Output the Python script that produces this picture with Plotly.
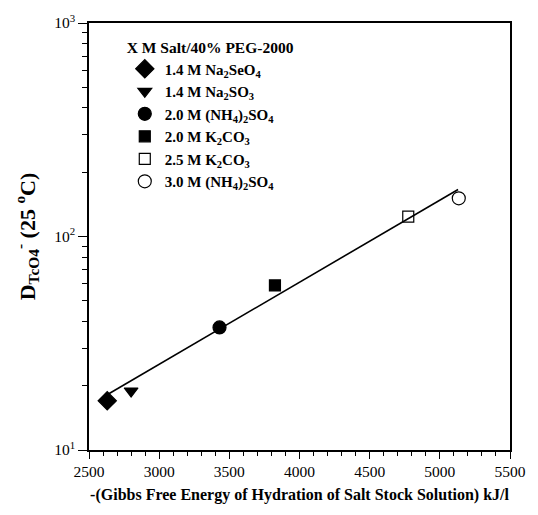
import plotly.graph_objects as go

# Data
salts = ["1.4 M Na<sub>2</sub>SeO<sub>4</sub>",
         "1.4 M Na<sub>2</sub>SO<sub>3</sub>",
         "2.0 M (NH<sub>4</sub>)<sub>2</sub>SO<sub>4</sub>",
         "2.0 M K<sub>2</sub>CO<sub>3</sub>",
         "2.5 M K<sub>2</sub>CO<sub>3</sub>",
         "3.0 M (NH<sub>4</sub>)<sub>2</sub>SO<sub>4</sub>"]
gibbs = [2630, 2800, 3430, 3825, 4775, 5135]
d_tco4 = [17.0, 18.9, 37.5, 59.0, 124.0, 151.0]
symbols = ["diamond", "triangle-down", "circle", "square", "square-open", "circle-open"]
sizes = [14, 12, 13, 11, 11, 13]

fit_x = [2620, 5130]
fit_y = [18.0, 166.0]

x_ticks = [2500, 3000, 3500, 4000, 4500, 5000, 5500]
y_ticks = [10, 100, 1000]
y_ticktext = ["10<sup>1</sup>", "10<sup>2</sup>", "10<sup>3</sup>"]
y_minor = [m * d for d in (10, 100) for m in range(2, 10)]

SERIF = "Liberation Serif, Times New Roman, serif"

fig = go.Figure()

fig.add_trace(go.Scatter(
    x=fit_x, y=fit_y, mode="lines",
    line=dict(color="black", width=1.6),
    showlegend=False, hoverinfo="skip"))

for name, xv, yv, sym, sz in zip(salts, gibbs, d_tco4, symbols, sizes):
    fig.add_trace(go.Scatter(
        x=[xv], y=[yv], mode="markers", name=name,
        marker=dict(symbol=sym, size=sz, color="black",
                    line=dict(color="black", width=1.2))))

fig.update_layout(
    width=538, height=515,
    margin=dict(l=89, r=18, t=18, b=65),
    plot_bgcolor="white", paper_bgcolor="white",
    font=dict(family=SERIF, size=15, color="black"),
    legend=dict(
        x=0.085, y=0.978, xanchor="left", yanchor="top",
        bgcolor="rgba(0,0,0,0)",
        font=dict(family=SERIF, size=15, color="black", weight="bold"),
        title=dict(text="<b>X M Salt/40% PEG-2000</b>",
                   font=dict(family=SERIF, size=15.5, color="black")),
        itemwidth=30, tracegroupgap=0,
    ),
    xaxis=dict(
        range=[2500, 5500], tickvals=x_ticks,
        ticks="outside", ticklen=7, tickwidth=1.2, tickcolor="black",
        showline=True, linecolor="black", linewidth=1.5, mirror=True,
        showgrid=False, zeroline=False,
        tickfont=dict(family=SERIF, size=15.5, color="black"),
        minor=dict(dtick=100, ticks="outside", ticklen=4, tickwidth=1, tickcolor="black", showgrid=False),
        title=dict(text="<b>-(Gibbs Free Energy of Hydration of Salt Stock Solution) kJ/l</b>",
                   font=dict(family=SERIF, size=16, color="black"), standoff=9),
    ),
    yaxis=dict(
        type="log", range=[1, 3],
        tickmode="array", tickvals=y_ticks, ticktext=y_ticktext,
        ticks="outside", ticklen=9, tickwidth=1.4, tickcolor="black",
        showline=True, linecolor="black", linewidth=1.5, mirror=True,
        showgrid=False, zeroline=False,
        tickfont=dict(family=SERIF, size=15.5, color="black"),
        minor=dict(tickmode="array", tickvals=y_minor, ticks="outside", ticklen=5,
                   tickwidth=1, tickcolor="black", showgrid=False),
        title=dict(text="<b>D<sub>TcO4</sub><sup>-</sup> (25 <sup>o</sup>C)</b>",
                   font=dict(family=SERIF, size=22, color="black"), standoff=13),
    ),
)

fig.write_html("out.html")
